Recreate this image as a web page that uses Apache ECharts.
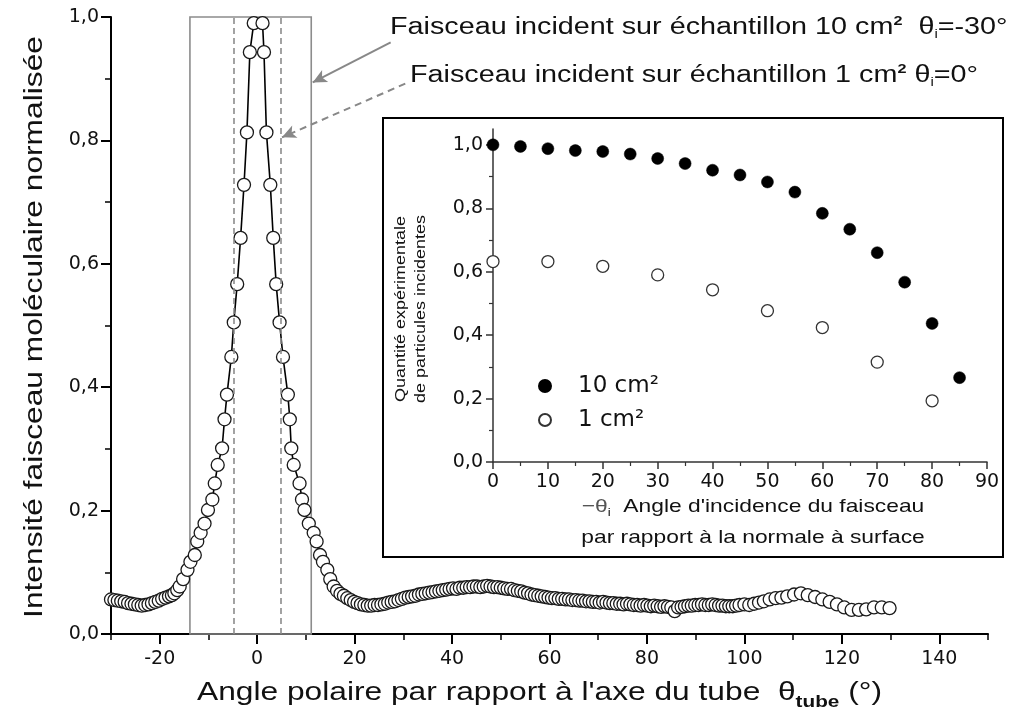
<!DOCTYPE html>
<html>
<head>
<meta charset="utf-8">
<script src="https://cdn.jsdelivr.net/npm/echarts@6/dist/echarts.min.js"></script>
<style>
  html, body { margin: 0; padding: 0; background: #fff; }
  #chart { width: 1009px; height: 719px; }
</style>
</head>
<body>
<div id="chart"></div>
<script>
// Polar distribution of the molecular beam leaving the tube (normalised intensity)
const tubeAngle = [
  -30.0, -29.3, -28.6, -27.9, -27.2, -26.5, -25.8, -25.1, -24.4, -23.7,
  -23.0, -22.3, -21.6, -20.9, -20.2, -19.5, -18.8, -18.1, -17.5, -17.0,
  -16.4, -15.9, -15.2, -14.3, -13.7, -12.8, -12.3, -11.6, -10.8, -10.1,
  -9.2, -8.7, -8.1, -7.2, -6.7, -6.2, -5.3, -4.8, -4.1, -3.4,
  -2.7, -2.1, -1.5, -0.7, 1.1, 1.4, 1.9, 2.7, 3.3, 3.9,
  4.6, 5.3, 6.3, 6.7, 7.0, 7.5, 8.7, 9.2, 9.7, 10.6,
  11.6, 12.2, 12.9, 13.5, 14.4, 15.0, 15.7, 16.4, 17.1, 17.8,
  18.5, 19.2, 19.9, 20.6, 21.3, 22.0, 22.7, 23.4, 24.1, 24.8,
  25.5, 26.2, 26.9, 27.6, 28.3, 29.0, 29.7, 30.4, 31.1, 31.8,
  32.5, 33.2, 33.9, 34.6, 35.3, 36.0, 36.7, 37.4, 38.1, 38.8,
  39.5, 40.2, 40.9, 41.6, 42.3, 43.0, 43.7, 44.4, 45.1, 45.8,
  46.5, 47.2, 47.9, 48.6, 49.3, 50.0, 50.7, 51.4, 52.1, 52.8,
  53.5, 54.2, 54.9, 55.6, 56.3, 57.0, 57.7, 58.4, 59.1, 59.8,
  60.5, 61.2, 61.9, 62.6, 63.3, 64.0, 64.7, 65.4, 66.1, 66.8,
  67.5, 68.2, 68.9, 69.6, 70.3, 71.0, 71.7, 72.4, 73.1, 73.8,
  74.5, 75.2, 75.9, 76.6, 77.3, 78.0, 78.7, 79.4, 80.1, 80.8,
  81.5, 82.2, 82.9, 83.6, 84.3, 85.0, 85.7, 86.4, 87.1, 87.8,
  88.5, 89.2, 89.9, 90.6, 91.3, 92.0, 92.7, 93.4, 94.1, 94.8,
  95.5, 96.2, 96.9, 97.6, 98.3, 99.0, 100.0, 101.0, 102.0, 103.0,
  104.0, 105.2, 106.4, 107.6, 108.8, 110.2, 111.6, 113.0, 114.5, 116.0,
  117.5, 119.0, 120.5, 122.0, 123.5, 125.0, 126.6, 128.2, 129.8
];
const intensity = [
  0.056, 0.055, 0.054, 0.053, 0.052, 0.050, 0.049, 0.048, 0.047, 0.046,
  0.047, 0.048, 0.050, 0.052, 0.054, 0.057, 0.059, 0.061, 0.063, 0.066,
  0.071, 0.077, 0.089, 0.104, 0.117, 0.128, 0.150, 0.164, 0.179, 0.201,
  0.218, 0.244, 0.274, 0.301, 0.348, 0.388, 0.449, 0.505, 0.567, 0.642,
  0.728, 0.813, 0.943, 0.990, 0.990, 0.943, 0.813, 0.728, 0.642, 0.567,
  0.505, 0.449, 0.388, 0.348, 0.301, 0.274, 0.244, 0.218, 0.201, 0.179,
  0.164, 0.150, 0.128, 0.117, 0.104, 0.089, 0.077, 0.070, 0.065, 0.062,
  0.058, 0.055, 0.052, 0.050, 0.048, 0.047, 0.046, 0.046, 0.047, 0.047,
  0.048, 0.049, 0.051, 0.052, 0.053, 0.055, 0.057, 0.059, 0.060, 0.061,
  0.062, 0.064, 0.065, 0.066, 0.067, 0.068, 0.069, 0.070, 0.071, 0.072,
  0.073, 0.074, 0.073, 0.075, 0.075, 0.076, 0.076, 0.077, 0.077, 0.076,
  0.077, 0.078, 0.077, 0.076, 0.076, 0.075, 0.074, 0.073, 0.073, 0.071,
  0.070, 0.069, 0.067, 0.066, 0.064, 0.063, 0.062, 0.061, 0.060, 0.059,
  0.058, 0.058, 0.057, 0.057, 0.056, 0.056, 0.055, 0.055, 0.054, 0.054,
  0.053, 0.053, 0.052, 0.052, 0.051, 0.052, 0.051, 0.050, 0.050, 0.049,
  0.049, 0.048, 0.049, 0.048, 0.047, 0.047, 0.046, 0.047, 0.046, 0.045,
  0.046, 0.045, 0.044, 0.045, 0.044, 0.043, 0.037, 0.043, 0.044, 0.045,
  0.046, 0.046, 0.047, 0.047, 0.048, 0.047, 0.047, 0.048, 0.047, 0.046,
  0.046, 0.045, 0.045, 0.045, 0.046, 0.047, 0.048, 0.047, 0.049, 0.051,
  0.053, 0.056, 0.058, 0.059, 0.061, 0.064, 0.066, 0.063, 0.060, 0.056,
  0.052, 0.048, 0.043, 0.039, 0.039, 0.040, 0.043, 0.043, 0.042
];

// Incident particle quantity vs. angle of incidence (inset)
const incidenceLarge = [0, 5, 10, 15, 20, 25, 30, 35, 40, 45, 50, 55, 60, 65, 70, 75, 80, 85];
const quantityLarge = [1.0, 0.995, 0.988, 0.982, 0.979, 0.971, 0.957, 0.941, 0.92, 0.905, 0.883, 0.851, 0.784, 0.734, 0.66, 0.567, 0.437, 0.266];
const incidenceSmall = [0, 10, 20, 30, 40, 50, 60, 70, 80];
const quantitySmall = [0.632, 0.632, 0.617, 0.59, 0.543, 0.477, 0.424, 0.315, 0.193];

// Axis ticks
const mainXLabels = [-20, 0, 20, 40, 60, 80, 100, 120, 140];
const mainXMinor = [-30, -10, 10, 30, 50, 70, 90, 110, 130, 150];
const insetYLabels = [0, 0.2, 0.4, 0.6, 0.8, 1.0];
const insetYMinor = [0.1, 0.3, 0.5, 0.7, 0.9];

// Acceptance windows of the two samples and the arrows pointing at them (axis units)
const beamWindow = [-13.8, 11.1];
const beamCore = [-4.8, 4.9];
const arrowSolid = [[27.4, 0.959], [11.4, 0.894]];
const arrowDashed = [[30.4, 0.892], [5.1, 0.805]];

const seriesLarge = '10 cm\u00b2';
const seriesSmall = '1 cm\u00b2';

const measureCtx = document.createElement('canvas').getContext('2d');
function fontOf(size, bold) { return (bold ? 'bold ' : '') + size + 'px "Liberation Sans"'; }
function widthOf(text, font) { measureCtx.font = font; return measureCtx.measureText(text).width; }

// A line of text made of pieces [text, size, dy, bold, colour], stretched horizontally
function textRow(pieces, x, y, opt) {
  opt = opt || {};
  let cx = 0;
  const children = pieces.map(p => {
    const font = fontOf(p[1], p[3]);
    const el = {
      type: 'text', x: cx, y: p[2] || 0, z: 50,
      style: { text: p[0], font: font, fill: p[4] || '#111', align: 'left', verticalAlign: 'middle' }
    };
    cx += widthOf(p[0], font);
    return el;
  });
  if (opt.center) children.forEach(c => { c.x -= cx / 2; });
  return {
    type: 'group', x: x, y: y, z: 50,
    rotation: opt.rotation || 0,
    scaleX: opt.scaleX || 1.22,
    children: children
  };
}

const comma = v => v.toFixed(1).replace('.', ',');
const tickFont = { fontFamily: 'DejaVu Sans', fontSize: 19, color: '#111' };

const chart = echarts.init(document.getElementById('chart'), null, { renderer: 'canvas' });

chart.setOption({
  animation: false,
  backgroundColor: '#fff',
  grid: [
    { left: 111, top: 17, right: 21, bottom: 85, show: false },
    { left: 493, top: 129, right: 22, bottom: 257, show: false }
  ],
  xAxis: [
    {
      gridIndex: 0, type: 'value', min: -30, max: 150, position: 'bottom',
      axisLine: { show: true, onZero: false, lineStyle: { color: '#000', width: 2 } },
      axisTick: { show: true, customValues: mainXLabels, length: 10, lineStyle: { color: '#000', width: 2 } },
      axisLabel: Object.assign({ customValues: mainXLabels, margin: 16, formatter: v => String(v) }, tickFont),
      splitLine: { show: false }
    },
    {
      gridIndex: 0, type: 'value', min: -30, max: 150, position: 'bottom', offset: 0,
      axisLine: { show: false },
      axisTick: { show: true, customValues: mainXMinor, length: 6, lineStyle: { color: '#000', width: 1.5 } },
      axisLabel: { show: false },
      splitLine: { show: false }
    },
    {
      gridIndex: 1, type: 'value', min: 0, max: 90, interval: 10, position: 'bottom', z: 10,
      axisLine: { show: true, onZero: false, lineStyle: { color: '#333', width: 1.5 } },
      axisTick: { show: true, length: 7, lineStyle: { color: '#333', width: 1.5 } },
      minorTick: { show: true, splitNumber: 2, length: 4, lineStyle: { color: '#333', width: 1.2 } },
      axisLabel: Object.assign({ margin: 11 }, tickFont),
      splitLine: { show: false }
    }
  ],
  yAxis: [
    {
      gridIndex: 0, type: 'value', min: 0, max: 1, interval: 0.2, position: 'left',
      axisLine: { show: true, onZero: false, lineStyle: { color: '#000', width: 2 } },
      axisTick: { show: true, length: 10, lineStyle: { color: '#000', width: 2 } },
      minorTick: { show: true, splitNumber: 2, length: 6, lineStyle: { color: '#000', width: 1.5 } },
      axisLabel: Object.assign({ margin: 12, formatter: comma }, tickFont),
      splitLine: { show: false }
    },
    {
      gridIndex: 1, type: 'value', min: 0, max: 1.05, position: 'left', z: 10,
      axisLine: { show: true, onZero: false, lineStyle: { color: '#333', width: 1.5 } },
      axisTick: { show: true, customValues: insetYLabels, length: 7, lineStyle: { color: '#333', width: 1.5 } },
      axisLabel: Object.assign({ customValues: insetYLabels, margin: 10, formatter: comma }, tickFont),
      splitLine: { show: false }
    },
    {
      gridIndex: 1, type: 'value', min: 0, max: 1.05, position: 'left', offset: 0, z: 10,
      axisLine: { show: false },
      axisTick: { show: true, customValues: insetYMinor, length: 4, lineStyle: { color: '#333', width: 1.2 } },
      axisLabel: { show: false },
      splitLine: { show: false }
    }
  ],
  legend: {
    orient: 'vertical', left: 533, top: 369, z: 20,
    itemWidth: 12, itemHeight: 12, itemGap: 10,
    data: [seriesLarge, seriesSmall],
    formatter: name => '{g|}' + name,
    textStyle: {
      fontFamily: 'DejaVu Sans', fontSize: 23, color: '#111', lineHeight: 24,
      rich: { g: { width: 22 } }
    }
  },
  series: [
    {
      name: 'Faisceau', type: 'line', xAxisIndex: 0, yAxisIndex: 0, z: 2,
      data: tubeAngle.map((a, i) => [a, intensity[i]]),
      showAllSymbol: true, symbol: 'circle', symbolSize: 13,
      lineStyle: { color: '#000', width: 1.6 },
      itemStyle: { color: '#fff', borderColor: '#1a1a1a', borderWidth: 1.3 },
      markArea: {
        silent: true,
        itemStyle: { color: 'rgba(0,0,0,0)', borderColor: '#8c8c8c', borderWidth: 1.6 },
        data: [[{ coord: [beamWindow[0], 0] }, { coord: [beamWindow[1], 1] }]]
      },
      markLine: {
        silent: true, symbol: ['none', 'none'], label: { show: false },
        lineStyle: { color: '#8c8c8c', width: 1.6, type: [6, 4] },
        data: [
          { xAxis: beamCore[0] },
          { xAxis: beamCore[1] },
          [
            { coord: arrowSolid[0], symbol: 'none', lineStyle: { type: 'solid', width: 2, color: '#888' } },
            { coord: arrowSolid[1], symbol: 'arrow', symbolSize: [10, 14] }
          ],
          [
            { coord: arrowDashed[0], symbol: 'none', lineStyle: { type: [7, 5], width: 2, color: '#888' } },
            { coord: arrowDashed[1], symbol: 'arrow', symbolSize: [10, 14] }
          ]
        ]
      }
    },
    {
      name: seriesLarge, type: 'scatter', xAxisIndex: 2, yAxisIndex: 1, z: 20,
      data: incidenceLarge.map((a, i) => [a, quantityLarge[i]]),
      symbol: 'circle', symbolSize: 12,
      itemStyle: { color: '#000', borderColor: '#000', borderWidth: 0.5, opacity: 1 }
    },
    {
      name: seriesSmall, type: 'scatter', xAxisIndex: 2, yAxisIndex: 1, z: 20,
      data: incidenceSmall.map((a, i) => [a, quantitySmall[i]]),
      symbol: 'circle', symbolSize: 12,
      itemStyle: { color: '#fff', borderColor: '#333', borderWidth: 1.3, opacity: 1 }
    }
  ],
  graphic: {
    elements: [
      // inset frame
      {
        type: 'rect', z: 5,
        shape: { x: 383, y: 118, width: 620, height: 439 },
        style: { fill: '#fff', stroke: '#000', lineWidth: 2 }
      },
      // annotations
      textRow([
        ['Faisceau incident sur échantillon 10 cm', 23, 0],
        ['2', 13, -7, true],
        ['  θ', 23, 0],
        ['i', 12, 7],
        ['=-30°', 23, 0]
      ], 390, 28, { scaleX: 1.25 }),
      textRow([
        ['Faisceau incident sur échantillon 1 cm', 23, 0],
        ['2', 13, -7, true],
        [' θ', 23, 0],
        ['i', 12, 7],
        ['=0°', 23, 0]
      ], 410, 76, { scaleX: 1.25 }),
      // main axis titles
      textRow([
        ['Angle polaire par rapport à l\'axe du tube  θ', 26, 0],
        ['tube', 17, 9, true],
        [' (°)', 26, 0]
      ], 197, 693, { scaleX: 1.22 }),
      textRow([
        ['Intensité faisceau moléculaire normalisée', 26, 0]
      ], 35, 327, { scaleX: 1.22, rotation: Math.PI / 2, center: true }),
      // inset axis titles
      textRow([['Quantité expérimentale', 15, 0]], 401, 309, { scaleX: 1.2, rotation: Math.PI / 2, center: true }),
      textRow([['de particules incidentes', 15, 0]], 421, 309, { scaleX: 1.2, rotation: Math.PI / 2, center: true }),
      textRow([
        ['\u2212θ', 19, 0, false, '#555'],
        ['i', 11, 6],
        ['  Angle d\'incidence du faisceau', 19, 0]
      ], 753, 507, { scaleX: 1.2, center: true }),
      textRow([['par rapport à la normale à surface', 19, 0]], 753, 538, { scaleX: 1.2, center: true })
    ]
  }
});
</script>
</body>
</html>
